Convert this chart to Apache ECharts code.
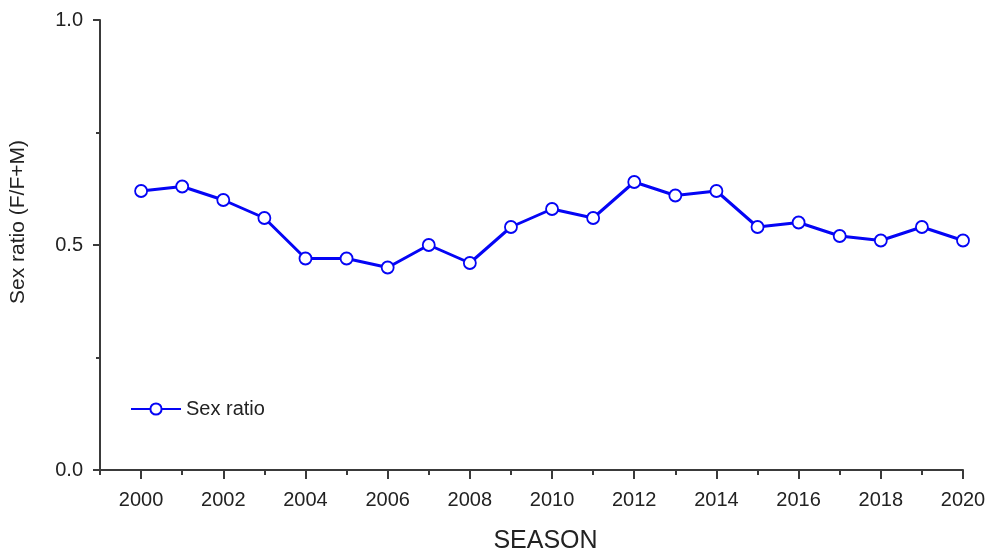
<!DOCTYPE html>
<html>
<head>
<meta charset="utf-8">
<script src="https://cdn.jsdelivr.net/npm/echarts@6/dist/echarts.min.js"></script>
<style>html,body{margin:0;padding:0;background:#fff;}#c{width:989px;height:556px;}</style>
</head>
<body>
<div id="c"></div>
<script>
const years = [2000,2001,2002,2003,2004,2005,2006,2007,2008,2009,2010,2011,2012,2013,2014,2015,2016,2017,2018,2019,2020];
const sexRatio = [0.62,0.63,0.60,0.56,0.47,0.47,0.45,0.50,0.46,0.54,0.58,0.56,0.64,0.61,0.62,0.54,0.55,0.52,0.51,0.54,0.51];
const axisYears = ['1999'].concat(years.map(String));
const yTicks = [0, 0.5, 1.0];

const chart = echarts.init(document.getElementById('c'));
const font = 'Liberation Sans, Arial, sans-serif';
const axisColor = '#3a3a3a';
chart.setOption({
  animation: false,
  backgroundColor: '#fff',
  grid: {left: 100, top: 20, width: 863, height: 450, containLabel: false, outerBoundsMode: 'none'},
  legend: {
    left: 125, top: 394, itemWidth: 50, itemHeight: 14, itemGap: 9,
    textStyle: {fontFamily: font, fontSize: 20, color: '#222'},
    data: ['Sex ratio']
  },
  xAxis: [{
    type: 'category', data: axisYears, boundaryGap: false,
    name: 'SEASON', nameLocation: 'middle', nameGap: 59,
    nameTextStyle: {fontFamily: font, fontSize: 25, color: '#222', padding: [0, 0, 0, 28]},
    axisLine: {lineStyle: {color: axisColor, width: 2}},
    axisTick: {length: 9, inside: false, lineStyle: {color: axisColor, width: 2},
      interval: (i, v) => Number(v) % 2 === 0},
    axisLabel: {fontFamily: font, fontSize: 20, color: '#222', margin: 20,
      interval: (i, v) => Number(v) % 2 === 0},
    splitLine: {show: false}
  }, {
    type: 'category', data: axisYears, boundaryGap: false, position: 'bottom',
    axisLine: {show: false},
    axisTick: {length: 5, lineStyle: {color: axisColor, width: 2}, interval: 0},
    axisLabel: {show: false},
    splitLine: {show: false}
  }],
  yAxis: {
    type: 'value', min: 0, max: 1, interval: 0.5,
    name: 'Sex ratio (F/F+M)', nameLocation: 'middle', nameGap: 71,
    nameTextStyle: {fontFamily: font, fontSize: 21, color: '#222', padding: [0, 0, 0, 46]},
    axisLine: {show: true, lineStyle: {color: axisColor, width: 2}},
    axisTick: {show: true, length: 7, lineStyle: {color: axisColor, width: 2}},
    minorTick: {show: true, splitNumber: 2, length: 4, lineStyle: {color: axisColor, width: 2}},
    axisLabel: {fontFamily: font, fontSize: 20, color: '#222', margin: 17,
      formatter: v => yTicks.includes(v) ? v.toFixed(1) : ''},
    splitLine: {show: false}
  },
  series: [{
    name: 'Sex ratio', type: 'line', xAxisIndex: 0,
    data: years.map((y, i) => [String(y), sexRatio[i]]),
    symbol: 'circle', symbolSize: 12,
    lineStyle: {color: '#0505f5', width: 3},
    itemStyle: {color: '#ffffff', borderColor: '#0505f5', borderWidth: 1.8}
  }]
});
</script>
</body>
</html>
